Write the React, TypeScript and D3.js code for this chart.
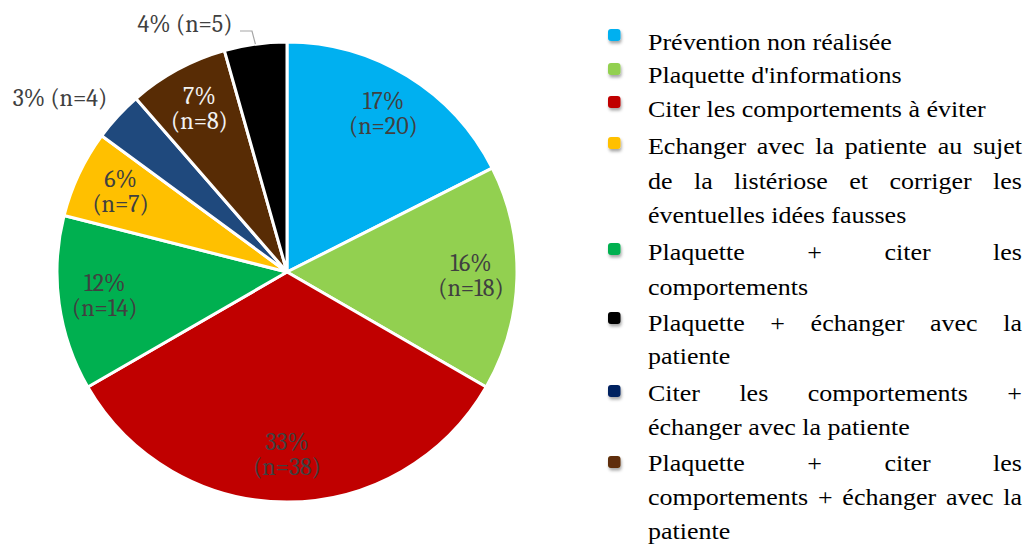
import React, { useEffect, useRef } from "react";
import * as d3 from "d3";

// Pie slices, clockwise from 12 o'clock
const sliceNames = [
  "Prévention non réalisée",
  "Plaquette d'informations",
  "Citer les comportements à éviter",
  "Plaquette + citer les comportements",
  "Echanger avec la patiente au sujet de la listériose et corriger les éventuelles idées fausses",
  "Citer les comportements + échanger avec la patiente",
  "Plaquette + citer les comportements + échanger avec la patiente",
  "Plaquette + échanger avec la patiente",
];
const sliceCounts = [20, 18, 38, 14, 7, 4, 8, 5];
const slicePercents = [17, 16, 33, 12, 6, 3, 7, 4];
const sliceColors = ["#00b0f0", "#92d050", "#c00000", "#00b050", "#ffc000", "#1f497d", "#582c05", "#000000"];
const sliceLabelColors = ["#404040", "#404040", "#404040", "#404040", "#404040", "#404040", "#f2f2f2", "#404040"];

// Legend (order as in the reference), with its printed line breaks
const legendNames = [
  "Prévention non réalisée",
  "Plaquette d'informations",
  "Citer les comportements à éviter",
  "Echanger avec la patiente au sujet de la listériose et corriger les éventuelles idées fausses",
  "Plaquette + citer les comportements",
  "Plaquette + échanger avec la patiente",
  "Citer les comportements + échanger avec la patiente",
  "Plaquette + citer les comportements + échanger avec la patiente",
];
const legendLines = [
  ["Prévention non réalisée"],
  ["Plaquette d'informations"],
  ["Citer les comportements à éviter"],
  ["Echanger avec la patiente au sujet", "de la listériose et corriger les", "éventuelles idées fausses"],
  ["Plaquette + citer les", "comportements"],
  ["Plaquette + échanger avec la", "patiente"],
  ["Citer les comportements +", "échanger avec la patiente"],
  ["Plaquette + citer les", "comportements + échanger avec la", "patiente"],
];
const legendColors = ["#00b0f0", "#92d050", "#c00000", "#ffc000", "#00b050", "#000000", "#002060", "#5f2f07"];

const W = 1031;
const H = 545;

// layout
const LX0 = 648;
const LX1 = 1022;
const SX = 1.13;
const FS = 23;
const LEGEND_FONT = `"Liberation Serif", "Times New Roman", Tinos, serif`;
const lineYs = [[42], [75], [109], [146, 181, 215], [252, 287], [323, 356], [393, 427], [463, 497, 531]];
const markerTops = [29, 63, 96, 137, 243, 312, 385, 456];

let ctx: CanvasRenderingContext2D | null = null;
function measure(s: string): number {
  if (!ctx) {
    const c = document.createElement("canvas");
    ctx = c.getContext("2d");
  }
  if (!ctx) return s.length * FS * 0.45;
  ctx.font = `${FS}px "Liberation Serif", "Times New Roman", serif`;
  return ctx.measureText(s).width;
}

function Legend() {
  const localW = (LX1 - LX0) / SX;
  const markers: React.ReactNode[] = [];
  legendLines.forEach((_lines, k) => {
    markers.push(
      <rect key={`m${k}`} x={608} y={markerTops[k]} width={12.5} height={12} rx={3} fill={legendColors[k]} filter="url(#sh)" />
    );
  });
  const texts: React.ReactNode[] = [];
  legendLines.forEach((lines, k) => {
    lines.forEach((line, j) => {
      const y = lineYs[k][j] + 8;
      const justify = j < lines.length - 1;
      const words = line.split(" ");
      if (!justify || words.length < 2) {
        texts.push(
          <text key={`t${k}-${j}`} x={0} y={y}>
            {line}
          </text>
        );
        return;
      }
      const widths = words.map(measure);
      const gap = (localW - d3.sum(widths)) / (words.length - 1);
      let x = 0;
      words.forEach((w, m) => {
        texts.push(
          <text key={`t${k}-${j}-${m}`} x={x} y={y}>
            {w}
          </text>
        );
        x += widths[m] + gap;
      });
    });
  });
  return (
    <g>
      {markers}
      <g transform={`translate(${LX0},0) scale(${SX},1)`} style={{ fontFamily: LEGEND_FONT, fontSize: `${FS}px` }} fill="#000">
        {texts}
      </g>
    </g>
  );
}

export default function App() {
  const ref = useRef<SVGGElement | null>(null);

  useEffect(() => {
    const root = d3.select(ref.current);
    root.selectAll("*").remove();

    const cx = 287;
    const cy = 272;
    const R = 230;

    const data = sliceCounts.map((v, i) => ({ v, i }));
    const pie = d3.pie<{ v: number; i: number }>().sort(null).value((d) => d.v);
    const arcs = pie(data);
    const arc = d3.arc<d3.PieArcDatum<{ v: number; i: number }>>().innerRadius(0).outerRadius(R);
    const labelArc = d3.arc<d3.PieArcDatum<{ v: number; i: number }>>().innerRadius(184).outerRadius(184);

    const g = root.append("g").attr("transform", `translate(${cx},${cy})`);
    g.selectAll("path.slice")
      .data(arcs)
      .join("path")
      .attr("class", "slice")
      .attr("d", arc as any)
      .attr("fill", (d) => sliceColors[d.data.i])
      .attr("stroke", "#fff")
      .attr("stroke-width", 3)
      .attr("stroke-linejoin", "round");

    const labelFont = `"Caladea", "DejaVu Serif", serif`;
    const lfs = 24;

    arcs.forEach((d) => {
      const i = d.data.i;
      const pct = `${slicePercents[i]}%`;
      const n = `(n=${sliceCounts[i]})`;
      if (i === 5) {
        g.append("text")
          .attr("x", 60 - cx)
          .attr("y", 106 - cy)
          .attr("text-anchor", "middle")
          .style("font-family", labelFont)
          .style("font-size", `${lfs}px`)
          .attr("fill", "#404040")
          .text(`${pct} ${n}`);
        return;
      }
      if (i === 7) {
        g.append("text")
          .attr("x", 185 - cx)
          .attr("y", 32 - cy)
          .attr("text-anchor", "middle")
          .style("font-family", labelFont)
          .style("font-size", `${lfs}px`)
          .attr("fill", "#404040")
          .text(`${pct} ${n}`);
        const ang = (d.startAngle + d.endAngle) / 2;
        const px = Math.sin(ang) * R;
        const py = -Math.cos(ang) * R;
        g.append("path")
          .attr("d", `M${240 - cx},${31 - cy}H${252 - cx}L${px},${py}`)
          .attr("fill", "none")
          .attr("stroke", "#a6a6a6")
          .attr("stroke-width", 1.2);
        return;
      }
      const [lx, ly] = labelArc.centroid(d);
      const t = g.append("text")
        .attr("text-anchor", "middle")
        .style("font-family", labelFont)
        .style("font-size", `${lfs}px`)
        .attr("fill", sliceLabelColors[i]);
      t.append("tspan").attr("x", lx).attr("y", ly - 6).text(pct);
      t.append("tspan").attr("x", lx).attr("y", ly + 19).text(n);
    });
    void legendNames; void sliceNames;
  }, []);

  return (
    <svg width={W} height={H} style={{ position: "absolute", left: 0, top: 0, background: "#fff" }}>
      <defs>
        <filter id="sh" x="-50%" y="-50%" width="250%" height="250%">
          <feDropShadow dx={1} dy={2.5} stdDeviation={1.5} floodColor="#000" floodOpacity={0.35} />
        </filter>
      </defs>
      <g ref={ref} />
      <Legend />
    </svg>
  );
}
